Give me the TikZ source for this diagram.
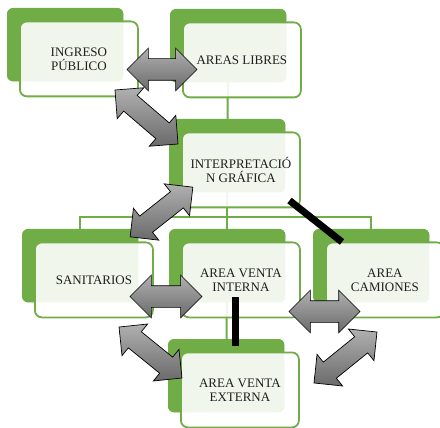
\documentclass[tikz,border=0pt]{standalone}
\usepackage{fontspec}
\setmainfont{Liberation Serif}
\usetikzlibrary{shapes.arrows}
\definecolor{grn}{HTML}{70AD47}
\definecolor{txt}{HTML}{1F1F1F}
\definecolor{agl}{HTML}{B0B0B0}
\definecolor{agd}{HTML}{6A6A6A}
\begin{document}
\begin{tikzpicture}[x=1pt,y=-1pt,
  backbox/.style={fill=grn, rounded corners=6pt, minimum width=116pt, minimum height=73pt, inner sep=0pt, anchor=north west},
  frontbox/.style={draw=grn, line width=1.8pt, fill=white, fill opacity=0.9, text opacity=1, rounded corners=7pt,
    minimum width=118pt, minimum height=75pt, inner sep=0pt, anchor=north west,
    font=\fontsize{13}{14}\selectfont, text=txt, align=center},
  tree/.style={draw=grn, line width=2pt},
  blockarrow/.style={double arrow, draw=black, line width=0.7pt, top color=agl, bottom color=agd,
    inner xsep=0pt, inner ysep=10.5pt, double arrow head extend=10.5pt},
  diagarrow/.style={blockarrow, inner ysep=10pt, double arrow head extend=10pt},
  bar/.style={draw=black, line width=7pt}
]
\useasboundingbox (0,0) rectangle (440,428);
\clip (0,0) rectangle (440,428);

% back boxes
\node[backbox] (b1b) at (7,8) {};
\node[backbox] (b2b) at (170,9) {};
\node[backbox] (b3b) at (169,119) {};
\node[backbox] (b4b) at (22,229) {};
\node[backbox] (b5b) at (169,229) {};
\node[backbox] (b6b) at (313,229) {};
\node[backbox] (b7b) at (168,339) {};

% tree connectors
\coordinate (bus) at (0,217);
\draw[tree] (b2b.center) -- (b3b.center);
\draw[tree] (b3b.center) -- (b3b.center |- bus);
\draw[tree] (b4b.center) |- (b6b.center |- bus) -- (b6b.center);
\draw[tree] (b5b.center |- bus) -- (b5b.center);
\draw[tree] (b5b.center) -- (b7b.center);

% redraw backs over connectors
\foreach \n in {b1b,b2b,b3b,b4b,b5b,b6b,b7b}{
  \fill[grn, rounded corners=6pt] (\n.north west) rectangle (\n.south east);
}

% front boxes
\node[frontbox] (b1) at (19,20.5) {INGRESO\\PÚBLICO};
\node[frontbox] (b2) at (182,21.5) {AREAS LIBRES};
\node[frontbox] (b3) at (181,131.5) {INTERPRETACIÓ\\N GRÁFICA};
\node[frontbox] (b4) at (34,241.5) {SANITARIOS};
\node[frontbox] (b5) at (181,241.5) {AREA VENTA\\INTERNA};
\node[frontbox] (b6) at (325,241.5) {AREA\\CAMIONES};
\node[frontbox] (b7) at (180,351.5) {AREA VENTA\\EXTERNA};

% block arrows
\node[blockarrow, minimum height=70pt] (a1) at (162,69.5) {};
\node[diagarrow, minimum height=83pt, rotate=-40.6] (a2) at (146.5,117) {};
\node[diagarrow, minimum height=80pt, rotate=38.4] (a3) at (161.5,212) {};
\node[blockarrow, minimum height=72pt] (a4) at (166,296.5) {};
\node[diagarrow, minimum height=81pt, rotate=-39] (a5) at (150.5,352.5) {};
\node[blockarrow, minimum height=71pt] (a6) at (324.5,311.5) {};
\node[diagarrow, minimum height=81pt, rotate=39] (a7) at (345.5,357.5) {};

% black bars
\coordinate (l1a) at (289.5,200.5);
\coordinate (l1b) at (342,242);
\coordinate (l2a) at (235.5,297);
\coordinate (l2b) at (235.5,346);
\draw[bar] (l1a) -- (l1b);
\draw[bar] (l2a) -- (l2b);
\end{tikzpicture}
\end{document}
